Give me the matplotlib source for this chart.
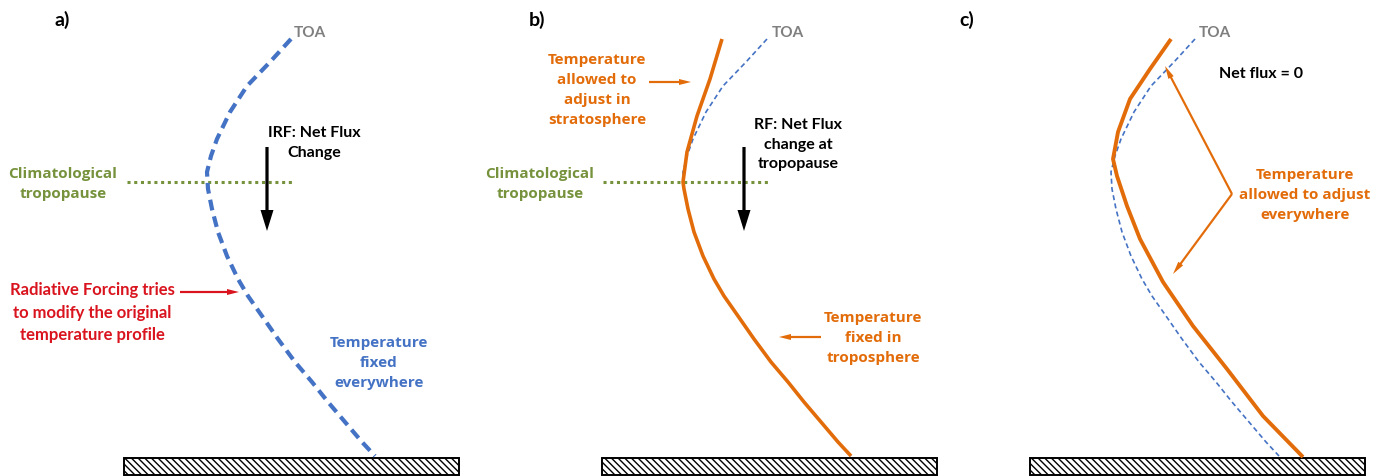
import matplotlib
matplotlib.use("Agg")
import matplotlib.pyplot as plt
from matplotlib.patches import Rectangle, FancyArrow
import numpy as np

plt.rcParams['font.family'] = ['Lato', 'DejaVu Sans']
plt.rcParams['hatch.color'] = '#333333'
plt.rcParams['hatch.linewidth'] = 1.0

# ---------------- data (pixel-space schematic profiles) ----------------
# original temperature profile (panel a), height y downward from TOA
profile_y = [40, 63, 87, 113, 140, 157, 173, 190, 210, 233, 257, 280, 297, 317,
             340, 363, 383, 403, 423, 443, 457]
profile_x = [291, 270, 247, 230, 217, 211, 207, 208, 212, 218, 227, 238, 248, 262,
             278, 295, 312, 328, 345, 362, 375]

# panel b: stratosphere-adjusted part (above tropopause), relative to panel b frame
strat_y = [40, 80, 117, 153, 183]
strat_x = [246, 234, 221, 211, 207]

# panel c: fully adjusted profile, relative to panel c frame
adj_y = [40, 70, 100, 133, 160, 177, 207, 240, 283, 327, 370, 417, 458]
adj_x = [267, 246, 226, 214, 209, 213, 223, 236, 259, 289, 323, 359, 399]

panel_labels = ['a)', 'b)', 'c)']
toa_label = 'TOA'
tropo_label = 'Climatological\ntropopause'

# ---------------- colours ----------------
BLUE = '#4472C4'
ORANGE = '#E36C0A'
GREEN = '#76923C'
RED = '#D9141E'
GRAY = '#7F7F7F'

fig = plt.figure(figsize=(13.84, 4.77), dpi=100)
ax = fig.add_axes([0, 0, 1, 1])
ax.set_xlim(0, 1384)
ax.set_ylim(477, 0)
ax.axis('off')

px = np.array(profile_x, dtype=float)
py = np.array(profile_y, dtype=float)

off_a, off_b, off_c = 0, 476, 904

def ground(x0):
    ax.add_patch(Rectangle((x0, 459), 335, 17, facecolor='white', edgecolor='black',
                           lw=1.4, hatch='\\\\\\\\\\', zorder=1))

def bold(x, y, s, color, size=11.5, ha='center', family=None, ls=1.5):
    kw = {}
    if family:
        kw['family'] = family
    ax.text(x, y, s, color=color, fontsize=size, fontweight='bold', ha=ha, va='center',
            linespacing=ls, zorder=5, **kw)

def wide(x, y, s, color):
    bold(x, y, s, color, size=11, family=['Open Sans', 'DejaVu Sans'], ls=1.55)

def arrow(x0, y0, x1, y1, color, width=2, hw=7, hl=11):
    ax.add_patch(FancyArrow(x0, y0, x1 - x0, y1 - y0, width=width, head_width=hw,
                            head_length=hl, length_includes_head=True, color=color,
                            lw=0, zorder=4))

# ---------------- panel a ----------------
ground(124)
ax.plot(px + off_a, py, color=BLUE, lw=3.0, dashes=(2.6, 1.5), dash_capstyle='butt', zorder=3)
ax.plot([127, 293], [183, 183], color=GREEN, lw=2.2, dashes=(1, 1.2), zorder=2)
bold(62, 20, panel_labels[0], 'black', size=14)
bold(310, 33, toa_label, GRAY, size=11)
bold(314, 143, 'IRF: Net Flux\nChange', 'black')
wide(63, 184, tropo_label, GREEN)
arrow(267, 148, 267, 232, 'black', width=3.2, hw=13, hl=21)
bold(92, 313, 'Radiative Forcing tries\nto modify the original\ntemperature profile', RED, size=12)
arrow(180, 293, 239, 293, RED, width=2.2, hw=6, hl=12)
wide(379, 363, 'Temperature\nfixed\neverywhere', BLUE)

# ---------------- panel b ----------------
ground(602)
ax.plot(px + off_b, py, color=BLUE, lw=1.2, dashes=(3, 2), zorder=2)
sel = py > 183
bx = np.concatenate([np.array(strat_x, float) + off_b, px[sel] + off_b])
by = np.concatenate([np.array(strat_y, float), py[sel]])
ax.plot(bx, by, color=ORANGE, lw=2.6, solid_capstyle='butt', zorder=3)
ax.plot([603, 770], [183, 183], color=GREEN, lw=2.2, dashes=(1, 1.2), zorder=2)
bold(537, 20, panel_labels[1], 'black', size=14)
bold(788, 33, toa_label, GRAY, size=11)
wide(597, 90, 'Temperature\nallowed to\nadjust in\nstratosphere', ORANGE)
arrow(649, 83, 691, 83, ORANGE, width=2.2, hw=6, hl=12)
bold(798, 145, 'RF: Net Flux\nchange at\ntropopause', 'black')
arrow(744, 148, 744, 232, 'black', width=3.2, hw=13, hl=21)
wide(540, 184, tropo_label, GREEN)
wide(873, 338, 'Temperature\nfixed in\ntroposphere', ORANGE)
arrow(821, 338, 779, 338, ORANGE, width=2.2, hw=6, hl=12)

# ---------------- panel c ----------------
ground(1030)
ax.plot(px + off_c, py, color=BLUE, lw=1.2, dashes=(3, 2), zorder=2)
ax.plot(np.array(adj_x, float) + off_c, adj_y, color=ORANGE, lw=2.8,
        solid_capstyle='butt', zorder=3)
bold(967, 20, panel_labels[2], 'black', size=14)
bold(1215, 33, toa_label, GRAY, size=11)
bold(1261, 74, 'Net flux = 0', 'black')
arrow(1232, 195, 1165, 67, ORANGE, width=2.2, hw=6, hl=13)
arrow(1232, 195, 1173, 275, ORANGE, width=2.2, hw=6, hl=13)
wide(1305, 195, 'Temperature\nallowed to adjust\neverywhere', ORANGE)

fig.savefig('out.png', dpi=100)
